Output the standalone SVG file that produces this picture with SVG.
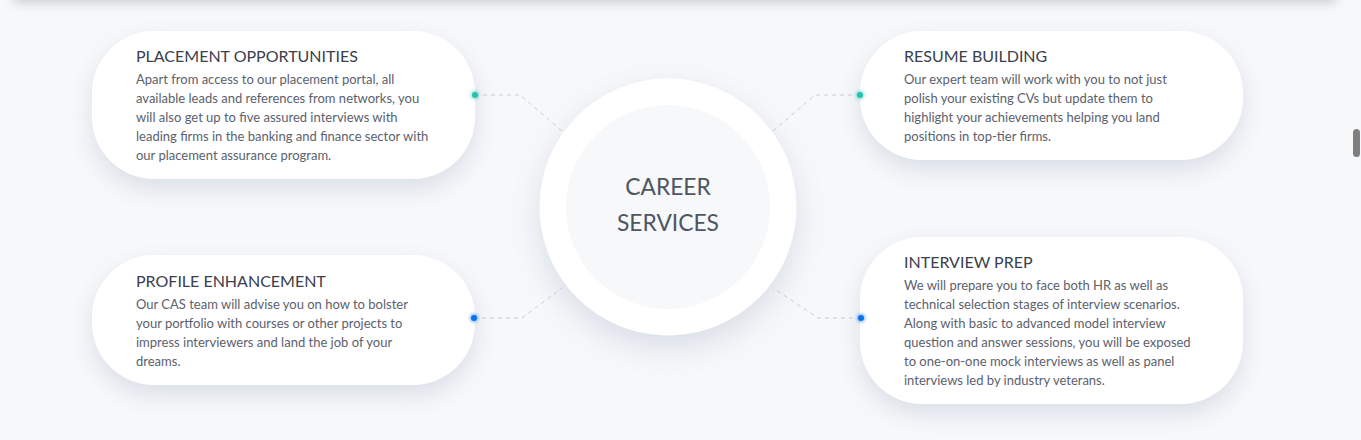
<svg xmlns="http://www.w3.org/2000/svg" width="1361" height="440" viewBox="0 0 1361 440">
<defs>
<style>
.card{fill:#ffffff;filter:url(#sh);}
.title{font-family:Lato,"Liberation Sans",sans-serif;font-size:16px;fill:#3a404c;}
.body{font-family:Lato,"Liberation Sans",sans-serif;font-size:13px;fill:#5b616d;}
.center{font-family:Lato,"Liberation Sans",sans-serif;font-size:22.8px;fill:#4f5663;text-anchor:middle;}
.dash{fill:none;stroke:#c9cdd3;stroke-width:1;stroke-dasharray:4 4;}
</style>
<filter id="sh" x="-20%" y="-30%" width="140%" height="170%">
<feDropShadow dx="0" dy="10" stdDeviation="12" flood-color="#a8b4c8" flood-opacity="0.38"/>
</filter>
<filter id="shc" x="-30%" y="-30%" width="160%" height="160%">
<feDropShadow dx="0" dy="12" stdDeviation="16" flood-color="#a8b4c8" flood-opacity="0.4"/>
</filter>
<filter id="glow" x="-100%" y="-100%" width="300%" height="300%">
<feGaussianBlur stdDeviation="1.5"/>
</filter>
<filter id="topb" x="-5%" y="-100%" width="110%" height="300%">
<feGaussianBlur stdDeviation="6"/>
</filter>
</defs>
<rect x="0" y="0" width="1361" height="440" fill="#f7f8fa"/>
<rect x="14" y="-34" width="1322" height="36" fill="#c4c6ca" filter="url(#topb)"/>
<rect x="1353" y="129" width="7" height="28" rx="3.5" fill="#7f7f7f"/>

<g id="connectors">
<polyline class="dash" points="475,95 520,95 562,131"/>
<polyline class="dash" points="860,95 815,95 773,131"/>
<polyline class="dash" points="474,318 522,318 562,288"/>
<polyline class="dash" points="861,318 818,318 773,288"/>
</g>

<g id="node-center">
<circle cx="668" cy="207" r="128.5" fill="#ffffff" filter="url(#shc)"/>
<circle cx="668" cy="207" r="102" fill="#f7f8f9"/>
<text class="center" x="668" y="195">CAREER</text>
<text class="center" x="668" y="231">SERVICES</text>
</g>

<g id="node-placement">
<rect class="card" x="92" y="31" width="383" height="148" rx="62"/>
<text class="title" x="136" y="62">PLACEMENT OPPORTUNITIES</text>
<text class="body" x="136" y="84">Apart from access to our placement portal, all</text>
<text class="body" x="136" y="103">available leads and references from networks, you</text>
<text class="body" x="136" y="122">will also get up to five assured interviews with</text>
<text class="body" x="136" y="141">leading firms in the banking and finance sector with</text>
<text class="body" x="136" y="160">our placement assurance program.</text>
</g>

<g id="node-profile">
<rect class="card" x="92" y="255" width="383" height="130" rx="62"/>
<text class="title" x="136" y="287">PROFILE ENHANCEMENT</text>
<text class="body" x="136" y="309">Our CAS team will advise you on how to bolster</text>
<text class="body" x="136" y="328">your portfolio with courses or other projects to</text>
<text class="body" x="136" y="347">impress interviewers and land the job of your</text>
<text class="body" x="136" y="366">dreams.</text>
</g>

<g id="node-resume">
<rect class="card" x="860" y="31" width="383" height="129" rx="62"/>
<text class="title" x="904" y="62">RESUME BUILDING</text>
<text class="body" x="904" y="84">Our expert team will work with you to not just</text>
<text class="body" x="904" y="103">polish your existing CVs but update them to</text>
<text class="body" x="904" y="122">highlight your achievements helping you land</text>
<text class="body" x="904" y="141">positions in top-tier firms.</text>
</g>

<g id="node-interview">
<rect class="card" x="860" y="237" width="383" height="167" rx="62"/>
<text class="title" x="904" y="268">INTERVIEW PREP</text>
<text class="body" x="904" y="290">We will prepare you to face both HR as well as</text>
<text class="body" x="904" y="309">technical selection stages of interview scenarios.</text>
<text class="body" x="904" y="328">Along with basic to advanced model interview</text>
<text class="body" x="904" y="347">question and answer sessions, you will be exposed</text>
<text class="body" x="904" y="366">to one-on-one mock interviews as well as panel</text>
<text class="body" x="904" y="385">interviews led by industry veterans.</text>
</g>

<g id="dots">
<circle cx="475" cy="95" r="4.5" fill="#2fc8b8" opacity="0.45" filter="url(#glow)"/>
<circle cx="475" cy="95" r="3" fill="#22c4b0"/>
<circle cx="860" cy="95" r="4.5" fill="#2fc8b8" opacity="0.45" filter="url(#glow)"/>
<circle cx="860" cy="95" r="3" fill="#22c4b0"/>
<circle cx="474" cy="318" r="4.5" fill="#1a7ef0" opacity="0.45" filter="url(#glow)"/>
<circle cx="474" cy="318" r="3" fill="#0b72e8"/>
<circle cx="861" cy="318" r="4.5" fill="#1a7ef0" opacity="0.45" filter="url(#glow)"/>
<circle cx="861" cy="318" r="3" fill="#0b72e8"/>
</g>
</svg>
